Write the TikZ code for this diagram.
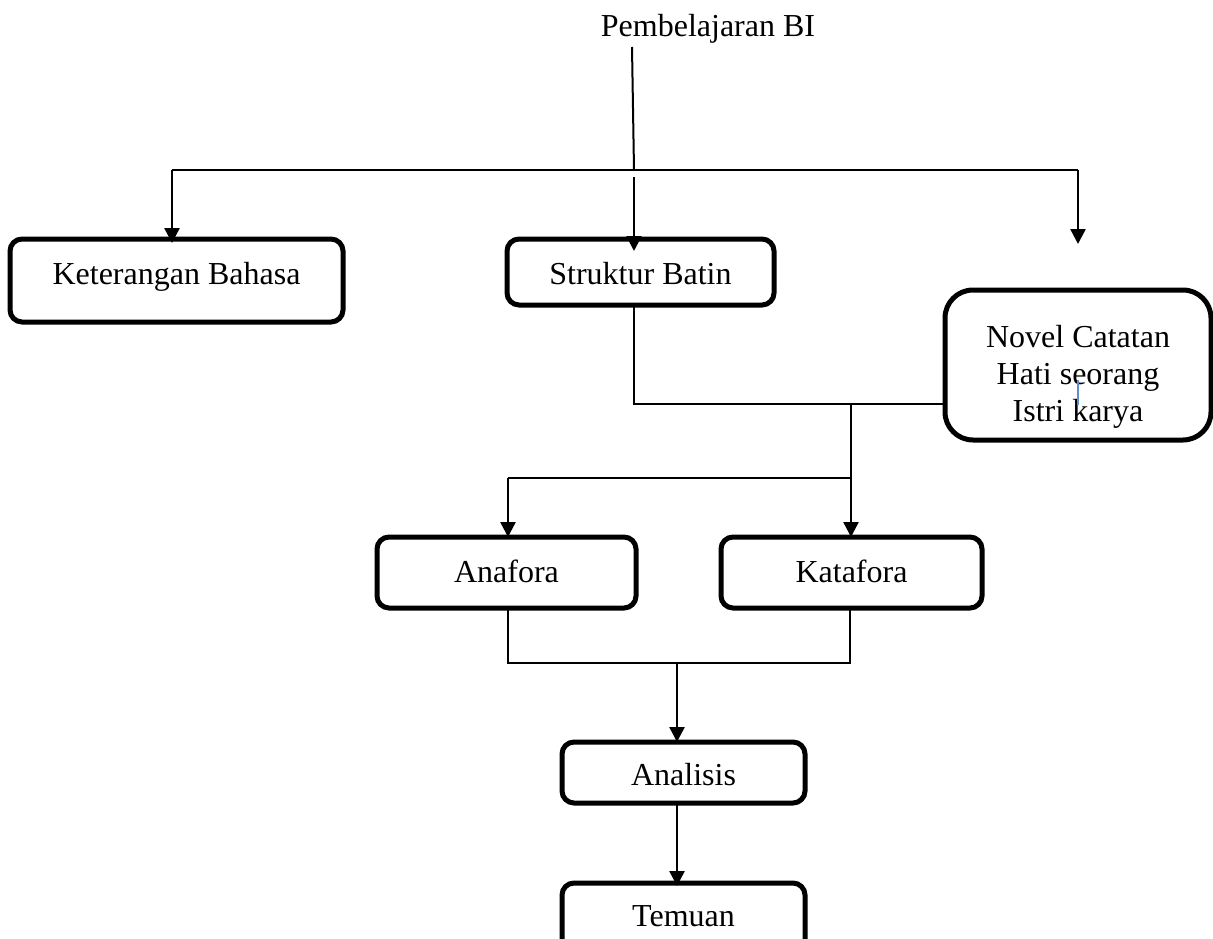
\documentclass[tikz,border=0pt]{standalone}
\usepackage{fontspec}
\setmainfont{Liberation Serif}
\usetikzlibrary{arrows.meta}
\definecolor{biru}{HTML}{5B8FD0}

\begin{document}
\begin{tikzpicture}[x=1pt,y=-1pt,
    font=\fontsize{32}{37}\selectfont,
    panah/.style={-{Triangle[length=15pt,width=15pt]},line width=2.5pt},
    garis/.style={line width=2pt},
    kursor/.style={draw=biru,line width=1.5pt}]

        \useasboundingbox (0,0) rectangle (1213,939);
        \clip (0,0) rectangle (1213,939);

        \node[anchor=base] (judul) at (708,37) {Pembelajaran BI};

        \begin{scope}[every node/.style={draw,rounded corners=12pt,line width=5pt,
            inner sep=0pt,outer sep=0pt,anchor=base}]
          \node[minimum width=333pt,text height=45pt,text depth=38pt] (ket)  at (176.5,284) {Keterangan Bahasa};
          \node[minimum width=267pt,text height=45pt,text depth=21pt] (struk) at (640.5,284) {Struktur Batin};
          \node[rounded corners=28pt,minimum width=266pt,text height=57pt,text depth=93pt] (novel) at (1078,347)
            {\begin{tabular}[t]{@{}c@{}}Novel Catatan\\Hati seorang\\Istri karya\end{tabular}};
          \node[minimum width=259pt,text height=45pt,text depth=26pt] (ana)  at (506.5,582) {Anafora};
          \node[minimum width=261pt,text height=45pt,text depth=26pt] (kata) at (851.5,582) {Katafora};
          \node[minimum width=243pt,text height=43pt,text depth=18pt] (analisis) at (683.5,785) {Analisis};
          \node[minimum width=243pt,text height=43pt,text depth=40pt] (temuan) at (683.5,926) {Temuan};
        \end{scope}

        \coordinate (atas)       at (632,47);
        \coordinate (simpang)    at (634,170);
        \coordinate (kiri)       at (172,170);
        \coordinate (kanan)      at (1078,170);
        \coordinate (ujung)      at (1078,244);
        \coordinate (tengah)     at (634,177);
        \coordinate (sambung)    at (634,404);
        \coordinate (bagi)       at (851,404);
        \coordinate (cabang)     at (851,478);
        \coordinate (cabangkiri) at (508,478);
        \coordinate (bawahkiri)  at (508,663);
        \coordinate (bawahkanan) at (850,663);
        \coordinate (turun)      at (677,663);

        \draw[garis] (atas) -- (simpang);
        \draw[garis] (kiri) -- (kanan);
        \draw[panah,shorten >=-4pt] (kiri) -- (kiri |- ket.north);
        \draw[panah,shorten >=-12pt] (tengah) -- (tengah |- struk.north);
        \draw[panah] (kanan) -- (ujung);

        \draw[garis] (struk.south -| sambung) -- (sambung) -- (novel.west |- sambung);
        \draw[panah] (bagi) -- (bagi |- kata.north);
        \draw[garis] (cabangkiri) -- (cabang);
        \draw[panah] (cabangkiri) -- (cabangkiri |- ana.north);

        \draw[garis] (ana.south -| bawahkiri) -- (bawahkiri) -- (bawahkanan) -- (bawahkanan |- kata.south);
        \draw[panah] (turun) -- (turun |- analisis.north);
        \draw[panah,shorten >=-3pt] (analisis.south -| turun) -- (turun |- temuan.north);

        \draw[kursor] (1078,380) -- (1078,405);

\end{tikzpicture}
\end{document}
